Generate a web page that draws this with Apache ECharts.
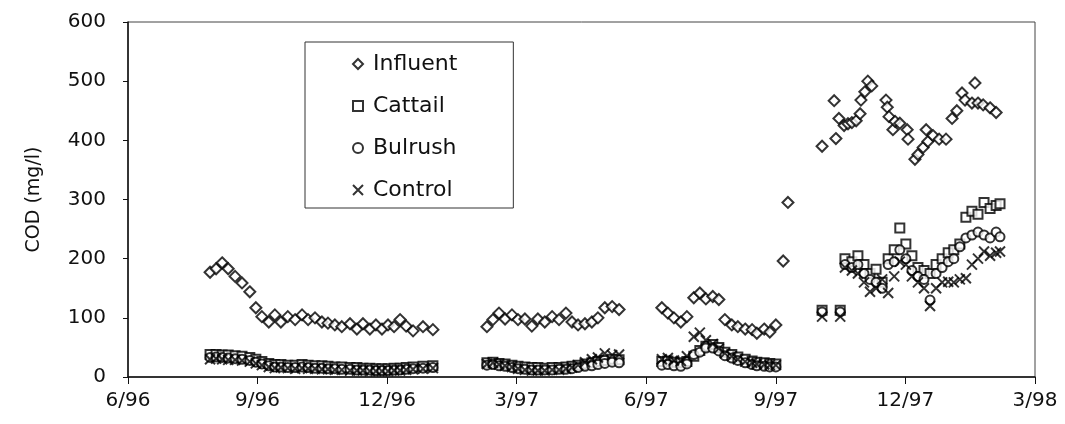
<!DOCTYPE html>
<html>
<head>
<meta charset="utf-8">
<script src="https://cdn.jsdelivr.net/npm/echarts@6/dist/echarts.min.js"></script>
<style>
	html, body { margin: 0; padding: 0; background: #fff; }
	#chart { width: 1065px; height: 424px; }
</style>
</head>
<body>
<div id="chart"></div>
<script>
// x values are months since 6/96
const tickLabels = ['6/96', '9/96', '12/96', '3/97', '6/97', '9/97', '12/97', '3/98'];

const influentMonths = [
	1.90, 2.04, 2.18, 2.32, 2.48, 2.64, 2.82, 2.96, 3.10, 3.26, 3.40, 3.54, 3.70, 3.87, 4.03, 4.17, 4.33, 4.49, 4.63, 4.79, 4.95,
	5.14, 5.30, 5.44, 5.60, 5.74, 5.88, 6.02, 6.16, 6.30, 6.44, 6.60, 6.83, 7.06,
	8.31, 8.45, 8.59, 8.73, 8.89, 9.03, 9.19, 9.35, 9.49, 9.65, 9.82, 9.98, 10.14, 10.28, 10.42, 10.58, 10.74, 10.88, 11.04, 11.21, 11.37,
	12.36, 12.50, 12.64, 12.80, 12.94, 13.10, 13.24, 13.38, 13.54, 13.68, 13.82, 13.98, 14.12, 14.29, 14.45, 14.56, 14.73, 14.86, 15.00, 15.17, 15.28,
	16.07, 16.35, 16.39, 16.46, 16.58, 16.67, 16.76, 16.86, 16.95, 16.97, 17.06, 17.13, 17.22, 17.55, 17.58, 17.62, 17.71, 17.76, 17.87,
	18.04, 18.06, 18.22, 18.29, 18.41, 18.48, 18.52, 18.64, 18.78, 18.94, 19.08, 19.19, 19.31, 19.38, 19.54, 19.61, 19.68, 19.80, 19.96, 20.10
];
const influentCOD = [
	177, 183, 193, 183, 170, 159, 144, 117, 102, 93, 105, 93, 102, 97, 105, 97, 100, 93, 91, 88, 85,
	90, 81, 90, 81, 88, 81, 88, 85, 97, 86, 78, 85, 80,
	85, 97, 108, 98, 105, 97, 98, 86, 98, 93, 102, 97, 108, 93, 88, 90, 93, 100, 117, 119, 114,
	117, 108, 100, 93, 102, 134, 142, 132, 136, 131, 97, 88, 85, 81, 80, 74, 81, 76, 88, 196, 295,
	390, 467, 403, 437, 425, 428, 430, 433, 445, 468, 482, 500, 492, 468, 456, 440, 418, 432, 429,
	418, 402, 368, 376, 388, 418, 398, 408, 402, 402, 437, 450, 480, 468, 463, 497, 463, 460, 455, 447
];

const wetlandMonths = [
	1.90, 2.04, 2.18, 2.32, 2.48, 2.64, 2.82, 2.96, 3.10, 3.26, 3.40, 3.54, 3.70, 3.87, 4.03, 4.17, 4.33, 4.49, 4.63, 4.79, 4.95,
	5.14, 5.30, 5.44, 5.60, 5.74, 5.88, 6.02, 6.16, 6.30, 6.44, 6.60, 6.83, 7.06,
	8.31, 8.45, 8.59, 8.73, 8.89, 9.03, 9.19, 9.35, 9.49, 9.65, 9.82, 9.98, 10.14, 10.28, 10.42, 10.58, 10.74, 10.88, 11.04, 11.21, 11.37,
	12.36, 12.50, 12.64, 12.80, 12.94, 13.10, 13.24, 13.38, 13.54, 13.68, 13.82, 13.98, 14.12, 14.29, 14.45, 14.56, 14.73, 14.86, 15.00,
	16.07, 16.49, 16.60, 16.76, 16.90, 17.04, 17.18, 17.32, 17.46, 17.60, 17.74, 17.87, 18.01, 18.15, 18.29,
	18.43, 18.57, 18.71, 18.85, 18.99, 19.12, 19.26, 19.40, 19.54, 19.68, 19.82, 19.96, 20.10, 20.19
];
const cattailCOD = [
	38, 38, 37, 37, 36, 35, 33, 30, 26, 23, 21, 21, 20, 20, 21, 20, 19, 19, 18, 17, 17,
	16, 16, 15, 15, 14, 14, 14, 15, 15, 16, 17, 18, 19,
	24, 25, 23, 22, 20, 18, 17, 16, 16, 15, 16, 16, 17, 18, 20, 22, 24, 26, 28, 30, 29,
	26, 27, 25, 24, 26, 35, 45, 52, 55, 50, 42, 38, 34, 30, 27, 25, 24, 23, 22,
	113, 113, 200, 195, 205, 190, 175, 182, 160, 200, 215, 252, 225, 205, 185,
	180, 175, 190, 200, 210, 215, 225, 270, 280, 275, 295, 285, 290, 293
];
const bulrushCOD = [
	33, 34, 33, 32, 31, 30, 28, 25, 22, 19, 17, 17, 16, 16, 17, 16, 15, 15, 14, 14, 13,
	13, 12, 12, 12, 11, 11, 11, 12, 12, 13, 14, 15, 16,
	20, 21, 19, 18, 16, 14, 13, 12, 12, 12, 12, 13, 13, 14, 16, 18, 19, 21, 23, 25, 24,
	20, 21, 19, 18, 22, 38, 42, 49, 49, 44, 36, 32, 28, 24, 21, 19, 18, 17, 17,
	110, 110, 190, 185, 190, 175, 165, 160, 150, 190, 195, 215, 200, 180, 170,
	165, 130, 175, 185, 195, 200, 220, 235, 240, 245, 240, 235, 245, 237
];
const controlCOD = [
	30, 31, 30, 29, 29, 28, 26, 23, 20, 17, 15, 16, 15, 14, 15, 14, 14, 13, 13, 12, 12,
	11, 11, 11, 10, 10, 10, 10, 11, 11, 12, 13, 14, 15,
	22, 24, 21, 19, 17, 14, 12, 11, 11, 11, 12, 12, 14, 16, 20, 25, 30, 33, 40, 37, 38,
	30, 32, 28, 27, 35, 68, 75, 62, 56, 48, 40, 35, 30, 26, 24, 22, 21, 20, 20,
	102, 102, 185, 180, 175, 160, 144, 150, 165, 142, 170, 195, 190, 170, 160,
	150, 120, 150, 160, 161, 160, 165, 167, 190, 200, 212, 205, 210, 212
];

const pairs = (xs, ys) => xs.map((x, i) => [x, ys[i]]);
const font = 'DejaVu Sans';
const markStyle = { color: '#fff', borderColor: '#000', borderWidth: 2 };

const chart = echarts.init(document.getElementById('chart'));
chart.setOption({
	animation: false,
	backgroundColor: '#fff',
	grid: {
		left: 128, right: 30, top: 22, bottom: 47,
		show: true, borderColor: '#444', borderWidth: 1
	},
	legend: {
		orient: 'vertical',
		left: 305, top: 42,
		padding: [11, 56, 7, 47],
		itemGap: 20,
		itemWidth: 10, itemHeight: 10,
		borderColor: '#333', borderWidth: 1,
		textStyle: { fontFamily: font, fontSize: 22, color: '#111', padding: [0, 0, 0, 5] },
		data: ['Influent', 'Cattail', 'Bulrush', 'Control']
	},
	xAxis: {
		type: 'value',
		min: 0, max: 21, interval: 3,
		splitLine: { show: false },
		axisLine: { lineStyle: { color: '#111', width: 1.5 } },
		axisTick: { length: 7, lineStyle: { color: '#111' } },
		axisLabel: {
			fontFamily: font, fontSize: 20, color: '#111', margin: 14,
			formatter: v => tickLabels[Math.round(v / 3)]
		}
	},
	yAxis: {
		type: 'value',
		min: 0, max: 600, interval: 100,
		name: 'COD (mg/l)',
		nameLocation: 'middle',
		nameGap: 84,
		nameTextStyle: { fontFamily: font, fontSize: 19, color: '#111' },
		splitLine: { show: false },
		axisLine: { show: true, lineStyle: { color: '#111', width: 1.5 } },
		axisTick: { show: true, length: 5, lineStyle: { color: '#111' } },
		axisLabel: { fontFamily: font, fontSize: 20, color: '#111', margin: 22 }
	},
	series: [
		{
			name: 'Influent', type: 'scatter', symbol: 'diamond', symbolSize: 11,
			itemStyle: markStyle,
			data: pairs(influentMonths, influentCOD)
		},
		{
			name: 'Cattail', type: 'scatter', symbol: 'rect', symbolSize: 9,
			itemStyle: markStyle,
			data: pairs(wetlandMonths, cattailCOD)
		},
		{
			name: 'Bulrush', type: 'scatter', symbol: 'circle', symbolSize: 9,
			itemStyle: markStyle,
			data: pairs(wetlandMonths, bulrushCOD)
		},
		{
			name: 'Control', type: 'scatter', symbol: 'path://M0,0L10,10M0,10L10,0', symbolSize: 10,
			itemStyle: { color: 'transparent', borderColor: '#000', borderWidth: 2 },
			data: pairs(wetlandMonths, controlCOD)
		}
	]
});
</script>
</body>
</html>
